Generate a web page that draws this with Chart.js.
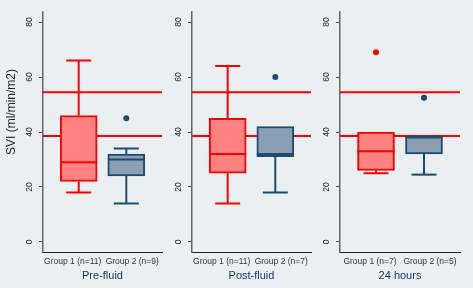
<!DOCTYPE html>
<html>
<head>
<meta charset="utf-8">
<script src="https://cdn.jsdelivr.net/npm/chart.js@4.4.1/dist/chart.umd.min.js"></script>
<style>
  html, body { margin: 0; padding: 0; background: #eaf0f2; }
  #wrap { position: relative; width: 473px; height: 288px; overflow: hidden; }
  canvas { position: absolute; top: 0; }
</style>
</head>
<body>
<div id="wrap">
  <canvas id="p0" width="166" height="288" style="left:0px"></canvas>
  <canvas id="p1" width="149" height="288" style="left:166px"></canvas>
  <canvas id="p2" width="150" height="288" style="left:314px"></canvas>
</div>
<script>
// data
const panelTitles = ['Pre-fluid', 'Post-fluid', '24 hours'];
const groupLabels = [
    ['Group 1 (n=11)', 'Group 2 (n=9)'],
    ['Group 1 (n=11)', 'Group 2 (n=7)'],
    ['Group 1 (n=7)', 'Group 2 (n=5)']
];
const lowerWhisker = [[18, 14], [14, 18], [25, 24.5]];
const q1 = [[22, 24], [25, 31], [26, 32]];
const median = [[29, 30], [32, 32], [33, 38]];
const q3 = [[46, 32], [45, 42], [40, 38.5]];
const upperWhisker = [[66, 34], [64, 42], [40, 38.5]];
const outliers = [[[], [45]], [[], [60]], [[69], [52.5]]];
const refLines = [38.5, 54.5];
const yTicks = [0, 20, 40, 60, 80];
const yTitle = 'SVI (ml/min/m2)';

const lineColors = ['#ff0000', '#1f4a70'];
const fillColors = ['#ff8282', '#8a9fb3'];
const font = '"Liberation Sans", Arial, sans-serif';

const boxParts = {
    id: 'boxParts',
    beforeDatasetsDraw(chart) {
        const {ctx, chartArea} = chart;
        const y = chart.scales.y;
        ctx.save();
        ctx.strokeStyle = '#ff0000';
        ctx.lineWidth = 2;
        refLines.forEach(v => {
            const py = y.getPixelForValue(v);
            ctx.beginPath();
            ctx.moveTo(chartArea.left, py);
            ctx.lineTo(chartArea.right, py);
            ctx.stroke();
        });
        ctx.restore();
    },
    afterDatasetsDraw(chart, args, opts) {
        const p = opts.panel;
        const ctx = chart.ctx;
        const xb = chart.scales.xb, y = chart.scales.y;
        const half = 18.5, capHalf = 12.5;
        const seg = (x1, y1, x2, y2) => {
            ctx.beginPath();
            ctx.moveTo(x1, y1);
            ctx.lineTo(x2, y2);
            ctx.stroke();
        };
        ctx.save();
        ctx.lineWidth = 2;
        for (let g = 0; g < 2; g++) {
            const cx = xb.getPixelForValue(g);
            ctx.strokeStyle = lineColors[g];
            if (upperWhisker[p][g] > q3[p][g]) {
                const py = y.getPixelForValue(upperWhisker[p][g]);
                seg(cx, y.getPixelForValue(q3[p][g]), cx, py);
                seg(cx - capHalf, py, cx + capHalf, py);
            }
            if (lowerWhisker[p][g] < q1[p][g]) {
                const py = y.getPixelForValue(lowerWhisker[p][g]);
                seg(cx, y.getPixelForValue(q1[p][g]), cx, py);
                seg(cx - capHalf, py, cx + capHalf, py);
            }
            const pm = y.getPixelForValue(median[p][g]);
            seg(cx - half, pm, cx + half, pm);
        }
        ctx.restore();
    },
    afterDraw(chart, args, opts) {
        const {ctx, chartArea} = chart;
        const y = chart.scales.y;
        ctx.save();
        ctx.fillStyle = '#222';
        ctx.textAlign = 'center';
        ctx.textBaseline = 'middle';
        ctx.font = '8.5px ' + font;
        yTicks.forEach(v => {
            ctx.save();
            ctx.translate(chartArea.left - 13, y.getPixelForValue(v));
            ctx.rotate(-Math.PI / 2);
            ctx.fillText(String(v), 0, 0);
            ctx.restore();
        });
        if (opts.panel === 0) {
            ctx.font = '12px ' + font;
            ctx.translate(12, 112);
            ctx.rotate(-Math.PI / 2);
            ctx.fillText(yTitle, 0, 0);
        }
        ctx.restore();
    }
};

function makePanel(p, yWidth) {
    const ctx = document.getElementById('p' + p).getContext('2d');
    const outlierSets = [0, 1].map(g => ({
        type: 'scatter',
        xAxisID: 'xb',
        yAxisID: 'y',
        data: outliers[p][g].map(v => ({x: g, y: v})),
        pointRadius: 3,
        pointBackgroundColor: lineColors[g],
        pointBorderColor: lineColors[g],
        pointBorderWidth: 0
    }));
    new Chart(ctx, {
        type: 'bar',
        data: {
            datasets: [{
                xAxisID: 'xb',
                yAxisID: 'y',
                data: [0, 1].map(g => ({x: g, y: [q1[p][g], q3[p][g]]})),
                backgroundColor: fillColors,
                borderColor: lineColors,
                borderWidth: 2,
                borderSkipped: false,
                barThickness: 37
            }].concat(outlierSets)
        },
        options: {
            responsive: false,
            animation: false,
            layout: { padding: { top: 12, right: 2, left: 0, bottom: 0 } },
            plugins: {
                legend: { display: false },
                tooltip: { enabled: false },
                boxParts: { panel: p }
            },
            scales: {
                xb: {
                    type: 'linear',
                    display: false,
                    offset: false,
                    grace: 0,
                    min: -0.75,
                    max: 1.75
                },
                x: {
                    type: 'category',
                    position: 'bottom',
                    labels: groupLabels[p],
                    offset: true,
                    afterFit: s => { s.height = 36; },
                    grid: { display: true, drawOnChartArea: false, drawTicks: false },
                    border: { color: '#222', width: 1 },
                    ticks: {
                        padding: 5,
                        maxRotation: 0,
                        autoSkip: false,
                        color: '#333',
                        font: { family: font, size: 8.5 }
                    },
                    title: {
                        display: true,
                        text: panelTitles[p],
                        color: '#1e3466',
                        font: { family: font, size: 11 },
                        padding: { top: 0, bottom: 5 }
                    }
                },
                y: {
                    type: 'linear',
                    position: 'left',
                    min: -3.64,
                    max: 83.64,
                    afterBuildTicks: s => { s.ticks = yTicks.map(v => ({value: v})); },
                    afterFit: s => { s.width = yWidth; },
                    grid: { drawOnChartArea: false, tickLength: 4, color: '#444' },
                    border: { color: '#666', width: 1.5 },
                    ticks: { display: false }
                }
            }
        },
        plugins: [boxParts]
    });
}

makePanel(0, 43);
makePanel(1, 26);
makePanel(2, 26);
</script>
</body>
</html>
